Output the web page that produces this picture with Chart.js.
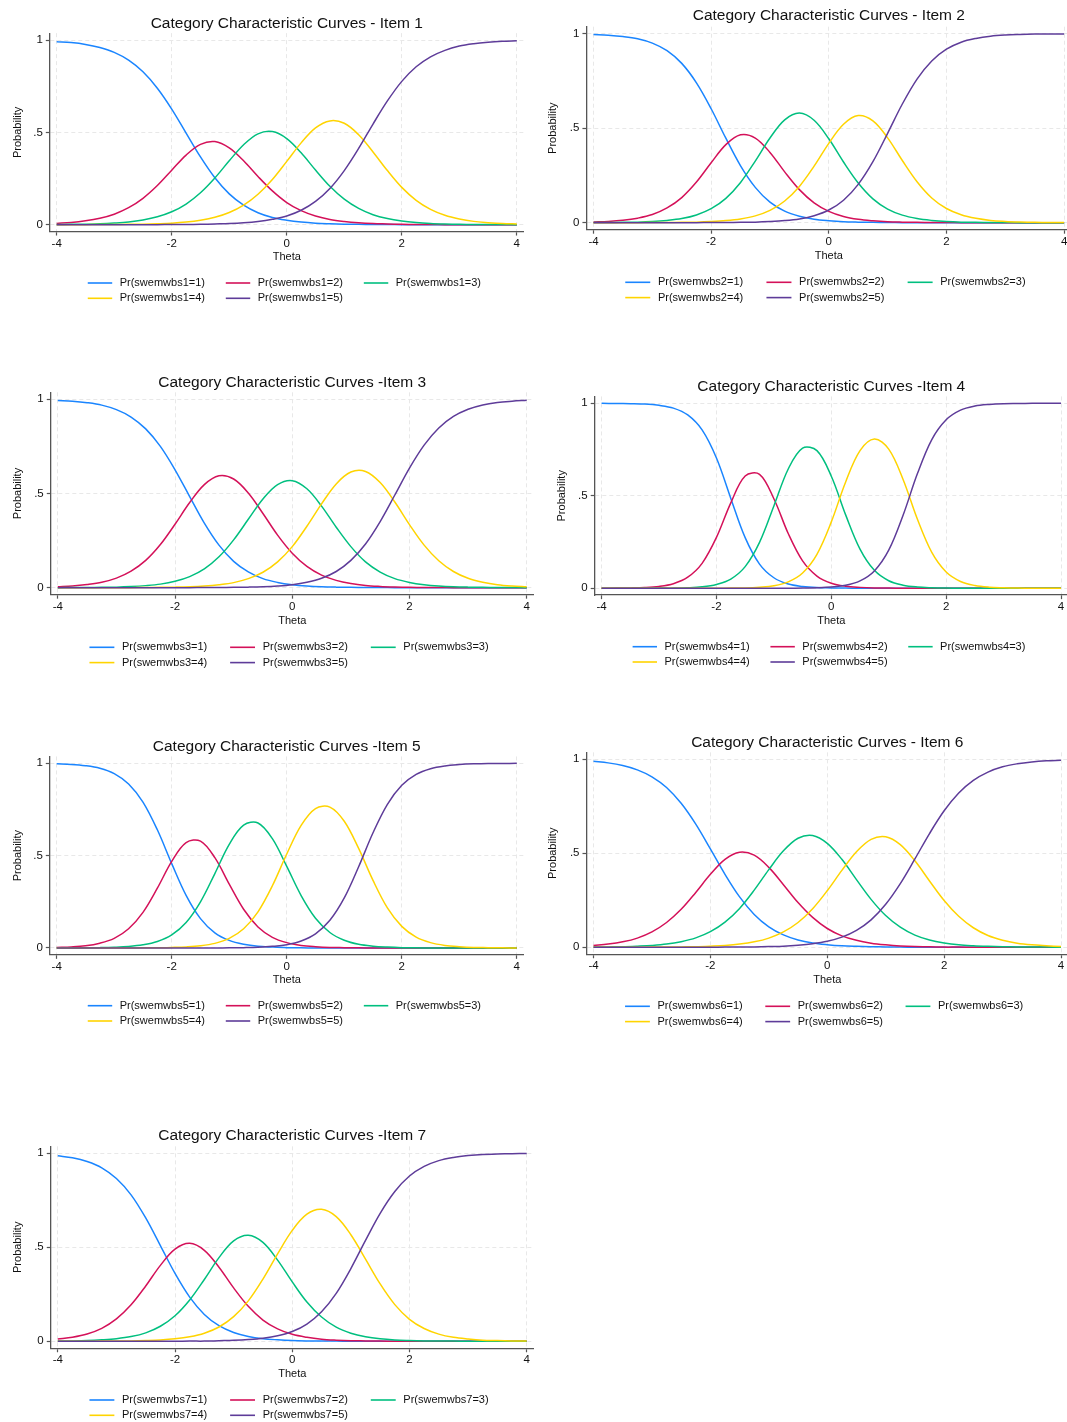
<!DOCTYPE html>
<html>
<head>
<meta charset="utf-8">
<title>Category Characteristic Curves</title>
<script src="https://cdn.jsdelivr.net/npm/chart.js@4.4.1/dist/chart.umd.min.js"></script>
<style>
  html, body { margin: 0; padding: 0; background: #fff; overflow: hidden; }
  body { width: 1067px; height: 1422px; position: relative; }
  canvas { position: absolute; }
</style>
</head>
<body>
<script>
// theta grid and axis ticks
const theta = [-4, -3.75, -3.5, -3.25, -3, -2.75, -2.5, -2.25, -2, -1.75, -1.5, -1.25, -1, -0.75, -0.5, -0.25,
  0, 0.25, 0.5, 0.75, 1, 1.25, 1.5, 1.75, 2, 2.25, 2.5, 2.75, 3, 3.25, 3.5, 3.75, 4];
const xTicks = [-4, -2, 0, 2, 4];
const yTicks = [0, 0.5, 1];
const categories = [1, 2, 3, 4, 5];
const itemTitles = [
  'Category Characteristic Curves - Item 1',
  'Category Characteristic Curves - Item 2',
  'Category Characteristic Curves -Item 3',
  'Category Characteristic Curves -Item 4',
  'Category Characteristic Curves -Item 5',
  'Category Characteristic Curves - Item 6',
  'Category Characteristic Curves -Item 7'
];

// probabilities per category (rows = categories 1..5)
const item1 = [
  [.991,.986,.976,.959,.933,.891,.828,.739,.626,.496,.367,.254,.167,.106,.065,.039,.024,.014,.008,.005,.003,.002,.001,.001,0,0,0,0,0,0,0,0,0],
  [.007,.012,.021,.035,.057,.092,.143,.212,.295,.377,.435,.450,.416,.346,.261,.183,.120,.076,.047,.028,.017,.010,.006,.004,.002,.001,.001,0,0,0,0,0,0],
  [.001,.002,.003,.005,.009,.015,.026,.043,.070,.112,.173,.253,.346,.433,.492,.504,.466,.389,.296,.208,.138,.088,.054,.033,.020,.012,.007,.004,.002,.001,.001,.001,0],
  [0,0,0,.001,.001,.002,.003,.005,.008,.014,.024,.040,.066,.106,.165,.245,.343,.443,.524,.562,.549,.487,.394,.293,.202,.132,.083,.051,.031,.018,.011,.006,.004],
  [0,0,0,0,0,0,0,0,.001,.001,.002,.004,.006,.010,.017,.029,.047,.078,.126,.196,.293,.413,.545,.670,.776,.855,.909,.944,.967,.980,.988,.993,.996]
];
const item2 = [
  [.996,.992,.985,.973,.950,.910,.843,.740,.603,.447,.301,.187,.109,.061,.034,.018,.010,.005,.003,.002,.001,0,0,0,0,0,0,0,0,0,0,0,0],
  [.004,.007,.013,.024,.043,.078,.133,.215,.317,.413,.465,.448,.372,.269,.175,.105,.060,.033,.018,.010,.005,.003,.002,.001,.001,0,0,0,0,0,0,0,0],
  [.001,.001,.002,.003,.006,.012,.022,.041,.074,.129,.213,.326,.448,.544,.580,.542,.444,.321,.210,.126,.072,.040,.022,.012,.006,.003,.002,.001,.001,0,0,0,0],
  [0,0,0,0,.001,.001,.002,.003,.006,.011,.020,.036,.065,.115,.192,.299,.420,.521,.567,.539,.449,.329,.217,.131,.075,.042,.023,.012,.007,.004,.002,.001,.001],
  [0,0,0,0,0,0,0,0,.001,.001,.002,.003,.006,.011,.020,.037,.067,.119,.203,.323,.473,.628,.760,.856,.918,.955,.975,.987,.993,.996,.998,.999,.999]
];
const item3 = [
  [.994,.990,.982,.969,.945,.906,.843,.750,.626,.484,.343,.226,.140,.084,.048,.028,.016,.009,.005,.003,.002,.001,.001,0,0,0,0,0,0,0,0,0,0],
  [.005,.009,.017,.029,.051,.088,.145,.229,.337,.452,.547,.594,.577,.503,.394,.279,.183,.113,.067,.039,.022,.012,.007,.004,.002,.001,.001,0,0,0,0,0,0],
  [0,.001,.001,.002,.003,.006,.011,.019,.034,.059,.100,.164,.254,.363,.471,.547,.568,.525,.433,.321,.218,.137,.083,.048,.028,.016,.009,.005,.003,.002,.001,.001,0],
  [0,0,0,0,0,0,.001,.002,.003,.005,.009,.016,.027,.048,.082,.137,.218,.326,.445,.551,.614,.617,.558,.455,.335,.226,.143,.086,.050,.029,.016,.009,.005],
  [0,0,0,0,0,0,0,0,0,0,.001,.001,.002,.003,.005,.009,.016,.029,.050,.086,.145,.232,.351,.492,.635,.757,.848,.909,.947,.970,.983,.990,.995]
];
const item4 = [
  [1,.999,.998,.996,.989,.974,.937,.856,.704,.486,.274,.131,.057,.023,.010,.004,.002,.001,0,0,0,0,0,0,0,0,0,0,0,0,0,0,0],
  [0,.001,.002,.004,.010,.025,.060,.135,.275,.462,.607,.616,.484,.296,.148,.066,.027,.011,.005,.002,.001,0,0,0,0,0,0,0,0,0,0,0,0],
  [0,0,0,0,.001,.001,.003,.008,.021,.050,.117,.248,.445,.645,.758,.744,.606,.397,.212,.097,.041,.017,.007,.003,.001,0,0,0,0,0,0,0,0],
  [0,0,0,0,0,0,0,0,0,.001,.002,.006,.014,.035,.083,.184,.359,.575,.744,.807,.752,.588,.373,.194,.088,.037,.015,.006,.003,.001,0,0,0],
  [0,0,0,0,0,0,0,0,0,0,0,0,0,0,.001,.003,.007,.016,.040,.094,.206,.395,.620,.804,.911,.963,.985,.994,.998,.999,1,1,1]
];
const item5 = [
  [.997,.994,.987,.973,.944,.888,.790,.640,.457,.285,.159,.082,.041,.020,.009,.005,.002,.001,0,0,0,0,0,0,0,0,0,0,0,0,0,0,0],
  [.003,.006,.012,.026,.052,.104,.193,.324,.469,.571,.579,.489,.346,.210,.114,.058,.029,.014,.007,.003,.002,.001,0,0,0,0,0,0,0,0,0,0,0],
  [0,0,.001,.002,.004,.008,.017,.035,.071,.138,.250,.403,.561,.665,.677,.592,.442,.284,.161,.084,.042,.020,.010,.005,.002,.001,0,0,0,0,0,0,0],
  [0,0,0,0,0,0,.001,.001,.003,.006,.012,.025,.052,.104,.196,.337,.509,.664,.755,.763,.686,.539,.366,.217,.117,.059,.029,.014,.007,.003,.002,.001,0],
  [0,0,0,0,0,0,0,0,0,0,0,0,.001,.002,.004,.009,.018,.038,.077,.150,.271,.440,.624,.778,.881,.940,.971,.986,.993,.997,.999,.999,1]
];
const item6 = [
  [.989,.981,.967,.944,.907,.850,.766,.655,.523,.388,.268,.175,.109,.066,.039,.023,.014,.008,.005,.003,.002,.001,0,0,0,0,0,0,0,0,0,0,0],
  [.010,.017,.029,.049,.082,.132,.202,.292,.388,.468,.506,.490,.425,.333,.238,.159,.100,.061,.037,.022,.013,.007,.004,.003,.001,.001,0,0,0,0,0,0,0],
  [.001,.002,.003,.006,.010,.017,.030,.050,.083,.134,.207,.304,.413,.513,.580,.595,.553,.468,.360,.255,.169,.107,.065,.039,.023,.013,.008,.005,.003,.002,.001,.001,0],
  [0,0,0,0,.001,.001,.002,.003,.006,.010,.017,.029,.049,.082,.132,.205,.301,.409,.508,.574,.588,.546,.460,.353,.249,.165,.104,.063,.038,.022,.013,.008,.004],
  [0,0,0,0,0,0,0,0,0,.001,.001,.002,.004,.006,.011,.019,.032,.054,.090,.146,.229,.339,.470,.605,.726,.821,.888,.932,.960,.976,.986,.992,.995]
];
const item7 = [
  [.987,.976,.956,.923,.866,.779,.656,.509,.361,.235,.143,.083,.047,.026,.014,.008,.004,.002,.001,.001,0,0,0,0,0,0,0,0,0,0,0,0,0],
  [.012,.022,.039,.069,.119,.194,.294,.404,.490,.521,.484,.394,.284,.186,.113,.066,.037,.021,.011,.006,.003,.002,.001,0,0,0,0,0,0,0,0,0,0],
  [.001,.002,.004,.008,.014,.025,.045,.080,.136,.220,.329,.445,.534,.564,.526,.432,.316,.209,.129,.075,.043,.024,.013,.007,.004,.002,.001,.001,0,0,0,0,0],
  [0,0,0,.001,.001,.002,.004,.007,.013,.024,.043,.076,.131,.215,.331,.465,.590,.676,.702,.663,.567,.437,.305,.195,.117,.068,.038,.021,.012,.006,.004,.002,.001],
  [0,0,0,0,0,0,0,0,0,.001,.001,.003,.005,.009,.016,.029,.052,.092,.157,.255,.387,.537,.681,.797,.879,.930,.961,.978,.988,.994,.996,.998,.999]
];

const colors = ['#1a85ff', '#d41159', '#00bf7f', '#ffd400', '#5e3c99'];
const fontFamily = '"Liberation Sans", Arial, Helvetica, sans-serif';

Chart.defaults.font.family = fontFamily;
Chart.defaults.color = '#111';
Chart.defaults.animation = false;

// where each panel sits on the page: x of theta -4 / 4, y of p=1 / p=0, text rows
const panels = [
  { probs: item1, n: 1, left: 0,   top: 0,    xm4: 56.7,  xp4: 516.8,  y1: 40.0,   y0: 224.7,  titleY: 23.3,   thetaY: 257.3,  legY: 283.0,  probX: 17.7 },
  { probs: item2, n: 2, left: 533, top: 0,    xm4: 593.5, xp4: 1064.1, y1: 33.7,   y0: 222.7,  titleY: 16.0,   thetaY: 256.0,  legY: 282.3,  probX: 553.4 },
  { probs: item3, n: 3, left: 0,   top: 365,  xm4: 57.8,  xp4: 526.7,  y1: 399.3,  y0: 587.7,  titleY: 382.3,  thetaY: 621.0,  legY: 647.3,  probX: 17.7 },
  { probs: item4, n: 4, left: 533, top: 365,  xm4: 601.6, xp4: 1061.0, y1: 403.3,  y0: 588.3,  titleY: 387.0,  thetaY: 621.0,  legY: 646.7,  probX: 561.9 },
  { probs: item5, n: 5, left: 0,   top: 730,  xm4: 56.7,  xp4: 516.8,  y1: 763.3,  y0: 948.0,  titleY: 746.7,  thetaY: 980.0,  legY: 1005.7, probX: 17.7 },
  { probs: item6, n: 6, left: 533, top: 730,  xm4: 593.5, xp4: 1061.0, y1: 759.3,  y0: 947.3,  titleY: 742.7,  thetaY: 980.0,  legY: 1006.3, probX: 553.4 },
  { probs: item7, n: 7, left: 0,   top: 1120, xm4: 57.8,  xp4: 526.7,  y1: 1153.3, y0: 1341.3, titleY: 1136.0, thetaY: 1374.0, legY: 1400.0, probX: 17.7 }
];

// legend laid out as a 3-column grid under the axis title
const gridLegend = {
  id: 'gridLegend',
  afterDraw(chart, args, opts) {
    const ctx = chart.ctx;
    const xs = chart.scales.x;
    const ppu = (xs.getPixelForValue(4) - xs.getPixelForValue(-4)) / 8;
    const x0 = xs.getPixelForValue(0) - 3.46 * ppu;
    ctx.save();
    ctx.font = '11px ' + fontFamily;
    ctx.textBaseline = 'middle';
    ctx.textAlign = 'left';
    ctx.fillStyle = '#111';
    chart.data.datasets.forEach((ds, i) => {
      const x = x0 + (i % 3) * 2.4 * ppu;
      const y = opts.y + Math.floor(i / 3) * 15.3;
      ctx.strokeStyle = ds.borderColor;
      ctx.lineWidth = 1.6;
      ctx.beginPath();
      ctx.moveTo(x, y);
      ctx.lineTo(x + 0.425 * ppu, y);
      ctx.stroke();
      ctx.fillText(ds.label, x + 0.555 * ppu, y);
    });
    ctx.restore();
  }
};

const xMin = -4.12, xMax = 4.12, yMin = -0.037, yMax = 1.037;

panels.forEach((p, idx) => {
  const W = 540, H = 310;
  const canvas = document.createElement('canvas');
  canvas.width = W;
  canvas.height = H;
  canvas.style.left = p.left + 'px';
  canvas.style.top = p.top + 'px';
  document.body.appendChild(canvas);

  const ppu = (p.xp4 - p.xm4) / 8;
  const ppuY = p.y0 - p.y1;
  const L = p.xm4 + (xMin + 4) * ppu - p.left;
  const R = p.xp4 + (xMax - 4) * ppu - p.left;
  const T = p.y1 - (yMax - 1) * ppuY - p.top;
  const B = p.y0 - yMin * ppuY - p.top;

  const padLeft = p.probX - p.left - 6.6;
  const yAxisW = L - padLeft;
  const xAxisH = p.thetaY - p.top - B + 6.6;
  const padBottom = H - B - xAxisH;
  const titleTop = p.titleY - p.top - 9.3;
  const titleBottom = T - (p.titleY - p.top) - 9.3;

  new Chart(canvas, {
    type: 'line',
    data: {
      datasets: categories.map((k, j) => ({
        label: 'Pr(swemwbs' + p.n + '=' + k + ')',
        data: theta.map((t, i) => ({ x: t, y: p.probs[j][i] })),
        borderColor: colors[j],
        backgroundColor: colors[j],
        borderWidth: 1.5,
        pointRadius: 0,
        tension: 0.35,
        fill: false,
        order: categories.length - j
      }))
    },
    options: {
      responsive: false,
      devicePixelRatio: 1,
      events: [],
      layout: { padding: { left: padLeft, right: W - R, top: 0, bottom: padBottom } },
      plugins: {
        legend: { display: false },
        tooltip: { enabled: false },
        title: {
          display: true,
          text: itemTitles[idx],
          fullSize: false,
          color: '#111',
          font: { size: 15.5, weight: 'normal', lineHeight: 1.2 },
          padding: { top: titleTop, bottom: titleBottom }
        },
        gridLegend: { y: p.legY - p.top }
      },
      scales: {
        x: {
          type: 'linear',
          min: xMin,
          max: xMax,
          afterBuildTicks: axis => { axis.ticks = xTicks.map(v => ({ value: v })); },
          afterFit: scale => { scale.height = xAxisH; },
          ticks: { autoSkip: false, maxRotation: 0, padding: 1, color: '#111', font: { size: 11.5 },
                   callback: v => String(v) },
          grid: { color: '#e8e8e8', lineWidth: 1, tickLength: 4, tickColor: '#555', tickWidth: 1.2 },
          border: { display: true, color: '#555', width: 1.3, dash: [4, 3] },
          title: { display: true, text: 'Theta', color: '#111', font: { size: 11 }, padding: { top: 0, bottom: 0 } }
        },
        y: {
          min: yMin,
          max: yMax,
          afterBuildTicks: axis => { axis.ticks = yTicks.map(v => ({ value: v })); },
          afterFit: scale => { scale.width = yAxisW; },
          ticks: { autoSkip: false, padding: 3, color: '#111', font: { size: 11.5 },
                   callback: v => (v === 0.5 ? '.5' : String(v)) },
          grid: { color: '#e8e8e8', lineWidth: 1, tickLength: 4, tickColor: '#555', tickWidth: 1.2 },
          border: { display: true, color: '#555', width: 1.3, dash: [4, 3] },
          title: { display: true, text: 'Probability', color: '#111', font: { size: 11 }, padding: { top: 0, bottom: 0 } }
        }
      }
    },
    plugins: [gridLegend]
  });
});
</script>
</body>
</html>
